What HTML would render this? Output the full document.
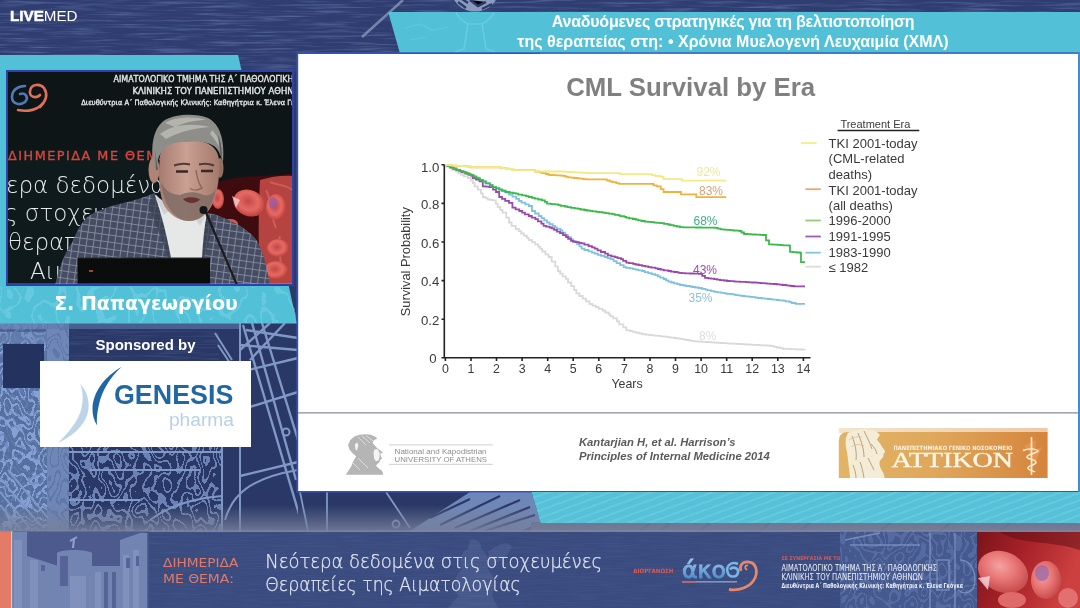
<!DOCTYPE html>
<html><head><meta charset="utf-8"><title>CML Survival by Era</title>
<style>
*{margin:0;padding:0;box-sizing:border-box}
html,body{width:1080px;height:608px;overflow:hidden;background:#2d3b6b}
body{position:relative;font-family:"Liberation Sans",Arial,sans-serif}
.abs{position:absolute}
#topband{left:0;top:0;width:1080px;height:55px;background:#2e3c6c;
 background-image:repeating-linear-gradient(180deg,rgba(120,140,190,.0) 0px,rgba(120,140,190,.18) 2px,rgba(120,140,190,0) 4px,rgba(0,0,0,0) 6px)}
#leftbg{left:0;top:55px;width:300px;height:476px;background:#33457a}
#titlebar{left:0;top:11.5px;width:1080px;height:42px;background:#52c1d8;clip-path:polygon(388px 0,1080px 0,1080px 42px,400px 42px)}
#title{left:400px;top:12px;width:666px;text-align:center;color:#fff;font:bold 16px/19.5px "Liberation Sans",sans-serif}
#logo{left:10px;top:8.3px;color:#fff;font:15.2px/16px "Liberation Sans",sans-serif}
#logo b{font-weight:bold;-webkit-text-stroke:0.5px #fff}
#cyanpanel{left:0;top:54.5px;width:300px;height:269px;background:#52c1d8;clip-path:polygon(0 0,238px 0,297px 269px,0 269px)}
#video{left:6px;top:70px;width:288px;height:216px;border:2px solid #2f40ac;background:#0e1614;overflow:hidden}
#name{left:0;top:288px;width:292px;text-align:center;color:#fff;font:bold 19px/30px "DejaVu Sans",sans-serif}
#sponsor{left:40px;top:336px;width:211px;text-align:center;color:#fff;font:bold 15px/18px "Liberation Sans",sans-serif}
#genesis{left:40px;top:360.5px;width:211px;height:86.5px;background:#fff}
#cyanband{left:0;top:492px;width:1080px;height:31px;background:#55c2d9 repeating-linear-gradient(160deg,rgba(255,255,255,0) 0 5px,rgba(255,255,255,.10) 5px 7px);clip-path:polygon(531.5px 0,1080px 0,1080px 31px,540.7px 31px)}
#fade{left:0;top:515px;width:1080px;height:16px;background:linear-gradient(180deg,rgba(110,120,150,0),rgba(110,120,150,.8))}
#bottom{left:0;top:531px;width:1080px;height:77px;background:#3b5282}
</style></head>
<body>
<svg class="abs" id="bgsvg" width="1080" height="608" viewBox="0 0 1080 608" style="left:0;top:0" font-family="Liberation Sans, Arial, sans-serif">
<defs>
<filter id="brush" x="0" y="0" width="100%" height="100%" color-interpolation-filters="sRGB">
  <feTurbulence type="fractalNoise" baseFrequency="0.02 0.45" numOctaves="3" seed="3"/>
  <feColorMatrix type="matrix" values="0 0 0 0 0.40  0 0 0 0 0.47  0 0 0 0 0.68  1.6 0 0 0 -0.74"/>
</filter>
<filter id="engr" x="0" y="0" width="100%" height="100%" color-interpolation-filters="sRGB">
  <feTurbulence type="fractalNoise" baseFrequency="0.05 0.035" numOctaves="2" seed="7"/>
  <feComponentTransfer><feFuncR type="discrete" tableValues="0 0 0 0 0 0 1 0 0 0 1 0 0 1 0 0 0 1 0 0 0 0 0 0"/></feComponentTransfer>
  <feColorMatrix type="matrix" values="0 0 0 0 0.50  0 0 0 0 0.60  0 0 0 0 0.80  0.8 0 0 0 0"/>
</filter>
<filter id="engr2" x="0" y="0" width="100%" height="100%" color-interpolation-filters="sRGB">
  <feTurbulence type="fractalNoise" baseFrequency="0.06 0.04" numOctaves="2" seed="11"/>
  <feComponentTransfer><feFuncR type="discrete" tableValues="0 0 0 1 0 0 1 0 0 1 0 0 1 0 0 1 0 0"/></feComponentTransfer>
  <feColorMatrix type="matrix" values="0 0 0 0 0.55  0 0 0 0 0.65  0 0 0 0 0.85  0.9 0 0 0 0"/>
</filter>
<filter id="fine" x="0" y="0" width="100%" height="100%" color-interpolation-filters="sRGB">
  <feTurbulence type="fractalNoise" baseFrequency="0.03 0.9" numOctaves="2" seed="5"/>
  <feColorMatrix type="matrix" values="0 0 0 0 0.55  0 0 0 0 0.62  0 0 0 0 0.80  1.2 0 0 0 -0.5"/>
</filter>
<linearGradient id="fadeg" x1="0" y1="0" x2="0" y2="1"><stop offset="0" stop-color="#747c98" stop-opacity="0"/><stop offset="1" stop-color="#777f9a" stop-opacity="0.9"/></linearGradient>
</defs>
<!-- top band -->
<!-- mid/lower navy -->
<rect x="0" y="56" width="1080" height="476" fill="#2b3a68"/>
<rect x="0" y="0" width="1080" height="72" fill="#2f3d70"/>
<rect x="0" y="0" width="1080" height="72" filter="url(#brush)"/>
<g id="leftpat">
<rect x="0" y="323" width="300" height="209" fill="#2a3867"/>
<rect x="69" y="330" width="150" height="115" filter="url(#brush)" opacity=".45"/>
<rect x="0" y="323" width="47" height="209" fill="#56709f"/>
<rect x="0" y="323" width="47" height="209" filter="url(#engr2)"/>
<rect x="0" y="323" width="69" height="209" filter="url(#engr)" style="mix-blend-mode:multiply" opacity=".5"/>
<rect x="47" y="323" width="22" height="209" fill="#6e87b6"/>
<rect x="47" y="323" width="22" height="209" filter="url(#engr)" opacity=".35" style="mix-blend-mode:multiply"/>
<rect x="0" y="323" width="240" height="6" fill="#5f79aa" opacity=".6"/>
<path d="M0,330.5 H47" stroke="#2a3867" stroke-width="2.5"/>
<rect x="69" y="447" width="153" height="84" filter="url(#engr2)" opacity=".75"/>
<rect x="0" y="323" width="47" height="209" filter="url(#engr)" opacity=".6"/>
<rect x="3" y="344" width="41" height="44" fill="#24325f"/>
<rect x="0" y="323" width="47" height="20" fill="#6a84b4" opacity=".5"/>
<g stroke="#7f98c6" stroke-width="2" fill="none">
<path d="M0,478 L40,525 M0,492 L30,528 M8,470 L48,518 M0,505 L22,531"/>
<path d="M222,445 V531 M240,323 V531"/>
<path d="M243,325 L299,514 M262,323 L298,440 M240,372 L298,358 M240,410 L298,392 M240,476 L298,462 M246,330 L298,338 M270,323 L240,350 M285,323 L250,360 M240,345 L298,350 M252,323 L296,480" stroke-width="2.4"/>
<path d="M225,520 C232,495 250,478 298,470"/>
<circle cx="286" cy="432" r="3.5"/>
<path d="M215,333 L232,360 M218,345 L236,372 M214,380 L226,402"/>
<path d="M69,452 H222 M69,500 H140 M150,520 C170,505 195,498 222,496 M90,470 H200"/>
</g>
</g>
<rect x="298" y="488" width="240" height="44" fill="#2a3867"/>
<g stroke="#7f98c6" stroke-width="1.8" fill="none">
<path d="M300,492 L308,531 M327,492 V531 M386,492 L410,528"/>
<circle cx="396" cy="524" r="3.5"/>
</g>
<path d="M410,531 L470,492 H531.5 L540.7,523 L520,531 Z" fill="#6f87b8"/>
<g stroke="#2a3867" stroke-width="2.2" fill="none">
<path d="M440,525 L500,496 M455,528 L520,500 M470,531 L530,507 M485,531 L535,515 M430,518 L470,499"/>
</g>
<!-- globe + stick decorations on top band -->
<circle cx="475" cy="-13" r="24.6" fill="#8a9bbf"/>
<path d="M458,2 L466,8 M470,0 L478,6 L486,2 M482,9 L492,4 M462,-1 L468,3" stroke="#2c3a6c" stroke-width="2.4"/>
<path d="M362,37 L403,0" stroke="#8796bb" stroke-width="2.5" opacity=".8"/>
<!-- fade -->
<rect x="531" y="522" width="549" height="10" fill="#646b86"/>
<g stroke="#4a5170" stroke-width="2" opacity=".8"><path d="M640,531 L650,523 M660,531 L670,523 M700,531 L710,523 M760,531 L770,523 M800,531 L810,523 M880,531 L890,523 M940,531 L950,523 M1000,531 L1010,523"/></g>
<rect x="0" y="505" width="1080" height="27" fill="url(#fadeg)"/>
<!-- bottom banner -->
<rect x="0" y="531.5" width="1080" height="76.5" fill="#3a4c7f"/>
<rect x="0" y="531.5" width="1080" height="76.5" filter="url(#fine)" opacity=".18"/>
<path d="M0,531.2 H1080" stroke="#8890aa" stroke-width="1"/>
<g id="banner">
<defs>
<linearGradient id="bldg" x1="0" y1="0" x2="0" y2="1"><stop offset="0" stop-color="#5467a0"/><stop offset="1" stop-color="#6a7fb4"/></linearGradient>
<linearGradient id="akog" x1="0" y1="0" x2="0" y2="1"><stop offset="0" stop-color="#9fd0f2"/><stop offset="1" stop-color="#3f7fc4"/></linearGradient>
<linearGradient id="rbc" x1="0" y1="0" x2="1" y2="0.3"><stop offset="0" stop-color="#7a141a"/><stop offset="0.5" stop-color="#a82228"/><stop offset="1" stop-color="#cc4040"/></linearGradient>
<radialGradient id="rcell" cx="0.4" cy="0.4" r="0.65"><stop offset="0" stop-color="#f4a2a2"/><stop offset="0.5" stop-color="#e87474"/><stop offset="1" stop-color="#c44848"/></radialGradient>
</defs>
<rect x="0" y="531.5" width="11.2" height="76.5" fill="#e37b66"/>
<rect x="11.2" y="531.5" width="1.4" height="76.5" fill="#f1e6e6"/>
<rect x="12.6" y="531.5" width="135.6" height="76.5" fill="#4c5a8e"/>
<g fill="#7284b2">
<rect x="12.6" y="532" width="14.5" height="76"/>
<path d="M27,556 L40,560 L58,566 V608 H27 Z"/>
<path d="M57,553 C60,549 88,549 92,553 V608 H57 Z"/>
<path d="M92,566 H120 V608 H92 Z"/>
<path d="M120,540 L140,533 L147.5,533 V608 H120 Z"/>
</g>
<g fill="#8495c0" opacity=".8">
<rect x="14" y="540" width="8" height="68"/>
<rect x="30" y="560" width="8" height="48"/>
<rect x="70" y="576" width="16" height="32"/>
<rect x="123" y="555" width="6" height="53"/><rect x="133" y="550" width="6" height="58"/>
<rect x="95" y="572" width="6" height="36"/>
</g>
<g fill="#56649a">
<rect x="60" y="556" width="8" height="30"/>
<rect x="104" y="572" width="4" height="36"/><rect x="112" y="572" width="4" height="36"/>
<rect x="41" y="565" width="4" height="6"/>
<rect x="126" y="558" width="4" height="10"/><rect x="136" y="556" width="3" height="10"/>
</g>
<path d="M73,548 L74,539 M70,541 L77,537" stroke="#93a3cf" stroke-width="2"/>
<rect x="147.5" y="531.5" width="1.5" height="76.5" fill="#44558a"/>
<g font-family="DejaVu Sans, sans-serif" fill="#e07a6a" font-size="12.4">
<text x="163" y="566.8" textLength="75.3" lengthAdjust="spacingAndGlyphs">ΔΙΗΜΕΡΙΔΑ</text>
<text x="163" y="582.6" textLength="71" lengthAdjust="spacingAndGlyphs">ΜΕ ΘΕΜΑ:</text>
</g>
<g opacity=".12" fill="#9fb2dc">
<path d="M470,540 C476,538 482,542 481,549 C486,552 490,560 488,570 C494,575 496,585 492,596 L498,608 H448 L458,596 C452,585 455,575 462,570 C458,560 462,551 468,549 Z"/>
<path d="M488,552 C498,545 506,540 512,546 C508,556 500,562 490,566 Z"/>
</g>
<g font-family="DejaVu Sans, sans-serif" font-weight="200" fill="#e3e7f3" stroke="#e3e7f3" stroke-width="0.25" font-size="18.8">
<text x="265.2" y="568" textLength="336.8" lengthAdjust="spacingAndGlyphs">Νεότερα δεδομένα στις στοχευμένες</text>
<text x="265.2" y="591.4" textLength="255.6" lengthAdjust="spacingAndGlyphs">Θεραπείες της Αιματολογίας</text>
</g>
<text x="633.3" y="573" font-family="DejaVu Sans Condensed, sans-serif" font-weight="bold" font-size="6" fill="#e05a52" textLength="40" lengthAdjust="spacingAndGlyphs">ΔΙΟΡΓΑΝΩΣΗ</text>
<text x="682" y="578" font-family="DejaVu Sans, sans-serif" font-size="23" fill="url(#akog)" stroke="url(#akog)" stroke-width="0.9" textLength="44" lengthAdjust="spacingAndGlyphs">άκο</text>
<path d="M738,564 C731,561 726,566 727.5,572 C729,578 737,578 738,572.5 C739,568 733,566 730,569.5" fill="none" stroke="#7ab6e6" stroke-width="2.6"/>
<path d="M741,571 C739,565 743,561 749,562 C756,563 758,571 755,578 C751,587 739,591 729,589.5" fill="none" stroke="#e4886c" stroke-width="2.8"/>
<path d="M747,570 C744,568 745,565 748,565.5" fill="none" stroke="#e08a70" stroke-width="1.8"/>
<rect x="682" y="581" width="55" height="1.6" fill="#b8c4e0" opacity=".6"/>
<rect x="682" y="581" width="14" height="1.6" fill="#e05a52"/>
<rect x="840" y="531.5" width="137" height="76.5" fill="#4d629a" opacity=".6"/>
<rect x="840" y="531.5" width="137" height="76.5" filter="url(#engr2)" opacity=".25"/>
<g stroke="#8296c6" stroke-width="1.4" fill="none" opacity=".8">
<path d="M930,533 V608 M955,533 V608 M845,540 L880,533 M850,545 H920 M960,560 C970,560 975,570 975,580 C975,592 965,596 958,590"/>
<rect x="937" y="560" width="12" height="30"/>
</g>
<g font-family="DejaVu Sans Condensed, sans-serif" fill="#eef0f6">
<text x="781.5" y="560" font-size="5" font-weight="bold" fill="#e2554d" textLength="59" lengthAdjust="spacingAndGlyphs">ΣΕ ΣΥΝΕΡΓΑΣΙΑ ΜΕ ΤΟ</text>
<text x="781.5" y="571.1" font-size="8.6" textLength="155.5" lengthAdjust="spacingAndGlyphs">ΑΙΜΑΤΟΛΟΓΙΚΟ ΤΜΗΜΑ ΤΗΣ Α΄ ΠΑΘΟΛΟΓΙΚΗΣ</text>
<text x="781.5" y="580" font-size="8.3" textLength="141.5" lengthAdjust="spacingAndGlyphs">ΚΛΙΝΙΚΗΣ ΤΟΥ ΠΑΝΕΠΙΣΤΗΜΙΟΥ ΑΘΗΝΩΝ</text>
<text x="781.5" y="588" font-size="7" font-weight="bold" textLength="181.5" lengthAdjust="spacingAndGlyphs">Διευθύντρια Α΄ Παθολογικής Κλινικής: Καθηγήτρια κ. Έλενα Γκόγκα</text>
</g>
<rect x="977" y="532" width="103" height="76" fill="url(#rbc)"/>
<path d="M1000,532 C1020,545 1050,540 1080,550 V532 Z" fill="#5a0c12" opacity=".5"/>
<ellipse cx="1003" cy="572" rx="26" ry="20" fill="url(#rcell)" transform="rotate(25 1003 572)"/>
<ellipse cx="1046" cy="580" rx="15" ry="19" fill="url(#rcell)"/>
<ellipse cx="1042" cy="573" rx="7" ry="8" fill="#9b6aa8" opacity=".8"/>
<ellipse cx="1068" cy="598" rx="10" ry="10" fill="#e27070"/>
<ellipse cx="1012" cy="600" rx="14" ry="8" fill="#de6a6a"/>
<path d="M978,578 L990,576 L988,590 Z" fill="#f3d8e0" opacity=".8"/>
</g>
</svg>
<div class="abs" id="titlebar"></div>
<svg class="abs" width="1080" height="60" viewBox="0 0 1080 60" style="left:0;top:0"><path d="M456,12 C458,18 464,22 468,24 L464,49 L455,52 M494,12 C492,18 486,22 482,24 L486,49 L495,52 M468,24 H482" fill="none" stroke="#74d2e6" stroke-width="1.6" opacity=".6"/><path d="M405,28 L420,24 L432,30 L448,27 M410,40 L426,37" fill="none" stroke="#6fcfe3" stroke-width="1.2" opacity=".5"/></svg>
<div class="abs" id="title"><span style="letter-spacing:-0.22px">Αναδυόμενες στρατηγικές για τη βελτιστοποίηση</span><br><span style="letter-spacing:0.02px">της θεραπείας στη: • Χρόνια Μυελογενή Λευχαιμία (ΧΜΛ)</span></div>
<div class="abs" id="logo"><b>LIVE</b>MED</div>
<div class="abs" id="cyanpanel"></div>
<div class="abs" id="video"><svg width="284" height="212" viewBox="8 72 284 212" style="position:absolute;left:0;top:0" font-family="Liberation Sans, Arial, sans-serif">
<defs>
<pattern id="check" x="0" y="0" width="7" height="7" patternUnits="userSpaceOnUse" patternTransform="rotate(8)">
<rect width="7" height="7" fill="#464d62"/>
<path d="M0,0.5 H7 M0.5,0 V7" stroke="#848ca0" stroke-width="0.9"/>
</pattern>
<radialGradient id="cell" cx="0.45" cy="0.45" r="0.6"><stop offset="0" stop-color="#c24848"/><stop offset="0.55" stop-color="#e66a62"/><stop offset="1" stop-color="#b83a3a"/></radialGradient>
<linearGradient id="redbg" x1="0" y1="0" x2="0" y2="1"><stop offset="0" stop-color="#3a0c0c"/><stop offset="0.4" stop-color="#6a1a18"/><stop offset="1" stop-color="#8a2622"/></linearGradient>
<linearGradient id="skin" x1="0" y1="0" x2="1" y2="0"><stop offset="0" stop-color="#a57c70"/><stop offset="0.45" stop-color="#c9a092"/><stop offset="1" stop-color="#a47a6c"/></linearGradient>
</defs>
<rect x="8" y="72" width="284" height="213" fill="#0d1517"/>
<rect x="8" y="150" width="150" height="135" fill="#0f1a1c"/>
<!-- red blood cells area -->
<path d="M205,190 C215,180 240,176 262,176 C275,175 285,174 293,174 V285 H205 Z" fill="#3e0c0e"/>
<path d="M260,180 C272,176 284,175 293,176 V285 H262 C258,260 258,220 260,180 Z" fill="#b5433f"/>
<path d="M266,190 C272,200 270,215 276,228 M280,236 C276,250 284,262 280,276 M270,182 C278,186 286,184 292,190" stroke="#d86a60" stroke-width="2" fill="none" opacity=".7"/>
<ellipse cx="249" cy="203" rx="16" ry="13" fill="url(#cell)" transform="rotate(25 249 203)"/>
<ellipse cx="276" cy="207" rx="10" ry="13" fill="url(#cell)"/>
<ellipse cx="273" cy="203" rx="4" ry="6" fill="#9a5aa8" opacity=".8"/>
<ellipse cx="218" cy="199" rx="6" ry="10" fill="url(#cell)"/>
<ellipse cx="230" cy="224" rx="8" ry="5" fill="#d85a56"/>
<ellipse cx="278" cy="248" rx="11" ry="9" fill="url(#cell)"/>
<ellipse cx="276" cy="270" rx="12" ry="9" fill="url(#cell)"/>
<path d="M232,196 L240,200 L236,208 Z" fill="#f2d0d4" opacity=".8"/>
<!-- screen texts -->
<g fill="#e4e6e8" stroke="#e4e6e8" stroke-width="0.35" font-family="DejaVu Sans Condensed, sans-serif">
<text x="113.5" y="82.3" font-size="9" textLength="185" lengthAdjust="spacingAndGlyphs">ΑΙΜΑΤΟΛΟΓΙΚΟ ΤΜΗΜΑ ΤΗΣ Α΄ ΠΑΘΟΛΟΓΙΚΗΣ</text>
<text x="132.4" y="94" font-size="9" textLength="174" lengthAdjust="spacingAndGlyphs">ΚΛΙΝΙΚΗΣ ΤΟΥ ΠΑΝΕΠΙΣΤΗΜΙΟΥ ΑΘΗΝΩΝ</text>
<text x="81.3" y="104.5" font-size="7.4" font-weight="normal" textLength="230" lengthAdjust="spacingAndGlyphs">Διευθύντρια Α΄ Παθολογικής Κλινικής: Καθηγήτρια κ. Έλενα Γκόγκα</text>
</g>
<g fill="none" stroke-width="2.6" stroke-linecap="round">
<path d="M25,86 C18,86 12,90 12,97 C12,104 20,106 25,102 C29,98 26,92 20,94" stroke="#4f79b8"/>
<path d="M40,107 C46,101 48,94 44,88 C40,83 31,84 30,91 C29,97 36,99 40,95" stroke="#e0705a"/>
<path d="M43,103 C38,110 28,112 18,110" stroke="#e0705a"/>
</g>
<text x="8" y="160" font-size="12.8" fill="#d9453a" stroke="#d9453a" stroke-width="0.35" letter-spacing="1.5" font-family="DejaVu Sans, sans-serif">ΔΙΗΜΕΡΙΔΑ ΜΕ ΘΕΜΑ</text>
<g fill="#e8eaf0" font-family="DejaVu Sans, sans-serif" font-weight="200" font-size="23">
<text x="6" y="193">ερα δεδομένα</text>
<text x="4" y="221">ς στοχευμένες</text>
<text x="8" y="250">θεραπείες</text>
<text x="30" y="279">Αιματολογίας</text>
</g>
<!-- jacket -->
<path d="M55,285 C60,265 66,250 72,243 C78,228 84,218 92,214 C103,208 118,204 128,202 C138,199 148,196 154,193 L162,200 L200,214 C210,212 218,215 226,219 C236,223 246,228 255,238 C262,248 266,262 270,285 Z" fill="url(#check)"/>
<path d="M154,193 L148,205 L160,235 L170,262 L172,285 H176 L168,240 Z" fill="#3a4052" opacity=".7"/>
<path d="M206,212 L214,222 L204,260 L200,285 H196 L200,250 Z" fill="#3a4052" opacity=".7"/>
<!-- shirt -->
<path d="M155,195 C160,210 166,230 171,258 L202,258 C203,242 204,228 207,213 C198,218 190,220 183,218 C172,212 163,204 157,196 Z" fill="#e6e8e8"/>
<path d="M155,195 L164,215 L172,208 Z M207,213 L200,226 L195,218 Z" fill="#cfd2d4"/>
<!-- neck -->
<path d="M166,196 C174,210 186,218 200,215 L206,211 L206,200 C196,206 180,206 166,192 Z" fill="#9d786c"/>
<!-- face -->
<ellipse cx="154" cy="170" rx="5.5" ry="13" fill="#b08474"/>
<ellipse cx="220" cy="168" rx="3.5" ry="10" fill="#96705f"/>
<path d="M160,158 C160,146 170,140 188,140 C206,140 218,146 219,160 C220,175 218,190 213,203 C208,214 199,221 189,221 C178,221 168,214 163,203 C159,192 158,172 160,158 Z" fill="url(#skin)"/>
<path d="M161,182 C163,202 173,221 189,221 C202,221 212,210 216,188 C213,195 207,197 201,194 C194,191 186,192 180,195 C171,195 165,190 161,182 Z" fill="#7f6c64" opacity=".85"/>
<path d="M183,199 C188,196.5 195,196.5 200,199.5 C196,204 188,204.5 183,199 Z" fill="#6b3030"/>
<path d="M196,170 C197,178 199,184 202,188 C198,190.5 193,190.5 190,188.5" fill="none" stroke="#8e6a5e" stroke-width="1.5"/>
<path d="M176,171.5 h12 M201,171 h12" stroke="#3b2824" stroke-width="2.6"/>
<path d="M174,165.5 q8,-3 16,-1 M199,164.5 q8,-2 15,1" stroke="#4f3c35" stroke-width="2" fill="none"/>
<!-- hair -->
<path d="M154,168 C150,146 153,128 165,120 C176,114 195,113 208,118 C220,124 225,140 223,163 C221,155 218,149 214,146 C206,141.5 196,141 188,142 C176,141.5 167,144 163,150 C159,155 157,160 156,170 Z" fill="#8d8d89"/>
<path d="M165,123 C175,117 193,116 206,120 C196,120 186,122 175,127 Z M160,134 C170,126 188,122 210,127 C196,128 180,131 166,139 Z M212,130 C218,136 220,142 221,150 C218,144 214,138 210,134 Z" fill="#b4b4af"/>
<path d="M155,150 C156,158 157,164 158,170 L156,170 Z M218,135 C221,142 222,150 222,160 L220,152 Z" fill="#5d5d5a"/>
<!-- laptop -->
<path d="M77.6,258 H210 V285 H77.6 Z" fill="#0b0c0c"/>
<path d="M77.6,258 H210" stroke="#2a2c2c" stroke-width="1"/>
<path d="M8,284.6 H292" stroke="#c9ccd6" stroke-width="1.6"/>
<rect x="89" y="270" width="4" height="2" fill="#b04030"/>
<!-- mic -->
<path d="M204,208 L237,285" stroke="#1a1c1e" stroke-width="2.2"/>
<circle cx="203.5" cy="210" r="4" fill="#141618"/>
</svg></div>
<svg class="abs" width="1080" height="608" viewBox="0 0 1080 608" style="left:0;top:0;pointer-events:none">
<defs><filter id="cyanpat" x="0" y="0" width="100%" height="100%" color-interpolation-filters="sRGB">
<feTurbulence type="fractalNoise" baseFrequency="0.045 0.03" numOctaves="2" seed="21"/>
<feComponentTransfer><feFuncR type="discrete" tableValues="0 0 0 0 1 0 0 0 1 0 0 0 0 1 0 0 0 0"/></feComponentTransfer>
<feColorMatrix type="matrix" values="0 0 0 0 0.55  0 0 0 0 0.85  0 0 0 0 0.93  0.35 0 0 0 0"/>
</filter>
<clipPath id="namebarclip"><polygon points="0,287 292,287 297,323 0,323"/></clipPath>
<clipPath id="cbandclip"><polygon points="531.5,492 1080,492 1080,523 540.7,523"/></clipPath>
</defs>
<rect x="0" y="287" width="300" height="36" filter="url(#cyanpat)" clip-path="url(#namebarclip)"/>
<rect x="530" y="492" width="550" height="31" filter="url(#cyanpat)" clip-path="url(#cbandclip)"/>
</svg>
<div class="abs" id="name">Σ. Παπαγεωργίου</div>
<div class="abs" id="sponsor">Sponsored by</div>
<div class="abs" id="genesis"><svg width="211" height="87" viewBox="40 360.5 211 87" style="position:absolute;left:0;top:0" font-family="Liberation Sans, Arial, sans-serif">
<path fill="#bcd3e8" d="M80,383 C86,390 89.5,398 88.5,408 C87,423 74,435 58,442.5 C69,432 78.5,420 81.5,408 C83.5,398 83,390 80,383 Z"/>
<path fill="#1f66a2" d="M121.5,366.5 C105,376 93,391 92.5,408 C92.3,414 94,420 97,425 C96.5,419 97,412 99,404 C102,390 110,377 121.5,366.5 Z"/>
<text x="114" y="403.9" font-size="26.8" font-weight="bold" fill="#1f68a3" textLength="119.3" lengthAdjust="spacingAndGlyphs">GENESIS</text>
<text x="168.9" y="425" font-size="19.2" fill="#b9d1e6" textLength="65.1" lengthAdjust="spacingAndGlyphs">pharma</text>
</svg></div>
<svg class="abs" id="slide" width="1080" height="608" viewBox="0 0 1080 608" style="left:0;top:0" font-family="Liberation Sans, Arial, sans-serif">
<rect x="296.5" y="52.3" width="783.5" height="440.2" fill="#3553b8"/>
<rect x="540" y="52.3" width="540" height="2" fill="#3d7fd0"/>
<rect x="1078" y="52.3" width="2" height="440" fill="#3d8ed6"/>
<rect x="298.2" y="54" width="779.8" height="437" fill="#fff"/>
<text x="690.7" y="95.6" text-anchor="middle" font-size="25.8" font-weight="bold" fill="#808080">CML Survival by Era</text>
<g fill="none" stroke-width="1.8" stroke-linejoin="miter">
<path d="M444.5,165.0 H446.5 V166.6 H449.9 V168.2 H452.0 V169.9 H455.9 V171.5 H458.0 V173.2 H460.8 V174.8 H463.9 V176.4 H468.0 V178.0 H471.0 V180.5 H472.9 V183.0 H474.7 V186.3 H477.8 V189.6 H480.9 V193.3 H482.8 V197.0 H485.5 V198.2 H487.7 V199.5 H490.7 V199.9 H492.6 V200.3 H495.8 V203.6 H497.6 V206.9 H500.2 V209.8 H502.5 V212.6 H506.2 V217.6 H509.0 V222.5 H511.6 V225.8 H515.7 V229.0 H518.9 V231.2 H521.2 V233.5 H523.9 V235.7 H526.9 V237.9 H528.7 V240.0 H532.0 V242.2 H535.2 V244.4 H538.2 V246.6 H540.3 V248.8 H542.3 V251.5 H545.5 V254.3 H548.5 V257.0 H551.7 V261.7 H555.3 V266.3 H557.9 V271.0 H560.1 V273.6 H562.7 V276.3 H565.8 V278.9 H568.0 V282.5 H571.2 V286.1 H574.1 V289.8 H576.3 V293.4 H579.4 V296.0 H582.7 V298.7 H586.0 V301.4 H589.5 V304.0 H592.5 V305.6 H595.9 V307.2 H598.7 V308.9 H602.6 V310.5 H605.3 V312.5 H608.7 V314.4 H610.4 V316.4 H613.2 V318.4 H616.9 V321.4 H619.2 V324.4 H623.3 V327.3 H626.3 V330.3 H629.9 V331.1 H632.9 V331.9 H635.8 V332.6 H638.9 V333.4 H642.1 V334.2 H645.4 V334.6 H648.9 V334.9 H650.7 V335.2 H653.7 V335.6 H657.8 V335.9 H660.5 V336.3 H664.4 V336.7 H667.0 V337.1 H670.2 V337.6 H673.9 V338.0 H676.2 V338.4 H680.0 V338.8 H682.8 V339.4 H685.8 V340.0 H689.5 V340.6 H692.5 V341.2 H695.3 V341.4 H698.3 V341.6 H702.2 V341.8 H705.7 V342.0 H707.8 V342.2 H711.6 V342.4 H714.3 V342.6 H718.1 V342.8 H720.8 V343.0 H723.4 V343.2 H726.9 V343.4 H729.3 V343.6 H731.9 V343.7 H735.6 V343.9 H738.3 V344.0 H740.9 V344.2 H744.1 V344.3 H746.9 V344.5 H750.5 V344.7 H752.4 V344.8 H756.7 V345.0 H758.8 V345.1 H761.9 V345.3 H764.5 V345.4 H767.5 V345.6 H771.1 V346.2 H774.2 V346.9 H776.9 V347.5 H779.9 V348.2 H783.0 V348.8 H786.5 V348.9 H789.9 V349.1 H792.3 V349.2 H795.9 V349.3 H799.5 V349.4 H801.8 V349.6 H805.0 V349.7" stroke="#d9d9d9"/>
<path d="M444.5,165.0 H447.1 V166.2 H451.0 V167.4 H453.4 V168.7 H456.4 V169.9 H460.2 V171.1 H462.8 V172.4 H465.8 V173.6 H469.6 V174.8 H472.1 V176.1 H474.5 V177.3 H477.8 V178.7 H479.5 V180.0 H482.8 V181.4 H486.5 V183.3 H490.0 V185.2 H492.6 V187.1 H496.4 V188.2 H499.7 V189.3 H502.5 V190.4 H505.0 V192.4 H509.0 V194.5 H512.5 V196.7 H516.2 V198.8 H519.0 V201.0 H521.5 V202.7 H525.2 V204.3 H528.8 V206.0 H532.0 V211.0 H535.0 V213.5 H538.7 V216.0 H541.5 V218.2 H544.1 V220.3 H547.0 V222.5 H549.6 V224.1 H552.8 V225.8 H555.0 V227.4 H557.0 V228.9 H560.5 V230.3 H562.4 V232.6 H565.2 V234.9 H567.8 V237.2 H571.0 V239.5 H573.0 V241.8 H577.1 V244.1 H579.5 V246.4 H581.6 V248.7 H584.4 V250.0 H588.5 V251.3 H592.0 V252.6 H594.8 V253.7 H597.9 V254.8 H601.0 V255.9 H604.6 V257.0 H607.6 V258.1 H610.5 V259.2 H613.6 V261.2 H616.6 V263.1 H620.1 V265.1 H623.7 V267.1 H626.2 V267.8 H629.9 V268.4 H633.2 V269.1 H635.8 V269.7 H638.4 V270.4 H642.1 V271.0 H644.7 V272.1 H648.2 V273.1 H651.7 V274.2 H655.2 V275.2 H657.9 V276.3 H660.3 V277.6 H663.6 V279.0 H666.0 V280.3 H668.4 V281.6 H671.2 V282.5 H674.0 V283.3 H677.1 V284.1 H680.0 V285.0 H683.5 V285.5 H686.1 V286.0 H689.7 V286.5 H692.5 V287.0 H695.3 V287.5 H698.8 V288.0 H702.0 V288.8 H705.4 V289.6 H707.5 V290.3 H711.2 V291.1 H714.4 V291.9 H717.4 V292.4 H721.3 V292.8 H724.5 V293.3 H726.7 V293.8 H730.7 V294.2 H733.6 V294.7 H735.9 V295.1 H739.4 V295.6 H742.4 V296.0 H745.0 V296.4 H749.2 V296.8 H752.1 V297.2 H755.5 V297.6 H758.0 V298.0 H761.6 V298.3 H764.5 V298.6 H767.7 V299.0 H770.6 V299.3 H773.0 V299.6 H776.9 V300.0 H779.1 V300.3 H783.0 V300.6 H785.6 V301.4 H789.7 V302.2 H791.7 V303.0 H795.6 V303.8 H805.0" stroke="#80c2dc"/>
<path d="M444.5,165.0 H447.6 V166.2 H450.1 V167.4 H453.2 V168.7 H456.4 V169.9 H459.8 V171.0 H461.5 V172.2 H465.3 V173.3 H468.5 V174.5 H471.0 V175.6 H472.9 V178.0 H475.9 V179.7 H479.5 V181.4 H482.8 V186.3 H485.6 V186.7 H489.3 V187.1 H493.1 V189.6 H496.0 V192.0 H499.2 V197.0 H502.0 V198.9 H505.2 V200.9 H509.0 V202.8 H512.4 V207.7 H515.6 V209.3 H519.3 V211.0 H522.2 V212.6 H524.9 V214.3 H528.8 V216.0 H531.8 V217.6 H535.4 V219.2 H537.9 V221.4 H541.4 V223.6 H543.6 V225.8 H546.2 V226.6 H549.6 V227.5 H551.8 V228.3 H554.0 V229.9 H557.0 V231.6 H560.0 V233.2 H563.0 V235.1 H566.1 V237.0 H568.2 V238.9 H571.0 V240.8 H573.2 V241.5 H575.7 V242.1 H579.0 V242.8 H581.6 V243.4 H584.4 V244.7 H588.6 V246.1 H592.0 V247.4 H594.7 V248.7 H597.5 V250.3 H600.9 V252.0 H605.1 V253.7 H607.9 V255.3 H611.4 V256.3 H614.9 V257.2 H617.5 V258.2 H621.0 V259.2 H623.1 V260.9 H626.3 V262.6 H629.1 V263.2 H633.1 V263.9 H635.4 V264.5 H638.7 V265.2 H642.1 V265.8 H645.1 V266.4 H648.3 V267.1 H651.4 V267.7 H655.4 V268.4 H657.9 V269.0 H660.6 V269.6 H663.7 V270.3 H668.4 V271.0 H671.0 V271.6 H674.3 V272.0 H677.1 V272.4 H678.8 V272.8 H681.6 V273.2 H685.2 V273.3 H688.0 V273.4 H689.8 V273.5 H693.5 V273.6 H696.5 V273.7 H698.8 V273.8 H702.2 V275.8 H705.0 V277.8 H708.2 V278.3 H710.9 V278.7 H714.1 V279.2 H717.1 V279.6 H720.0 V280.1 H723.9 V280.5 H726.9 V281.0 H729.7 V281.2 H733.6 V281.4 H735.5 V281.6 H740.0 V281.8 H742.8 V281.9 H746.3 V282.1 H749.4 V282.3 H751.9 V282.5 H755.7 V282.7 H758.3 V282.9 H760.5 V283.1 H764.8 V283.4 H767.0 V283.6 H770.4 V283.8 H773.8 V284.0 H776.9 V284.3 H779.6 V284.7 H782.3 V285.0 H786.0 V285.3 H788.4 V285.6 H790.9 V286.0 H794.0 V286.3 H805.0" stroke="#9a48ae"/>
<path d="M444.5,165.0 H448.0 V166.2 H451.2 V167.4 H453.7 V168.7 H456.4 V169.9 H459.2 V171.1 H463.6 V172.4 H467.0 V173.6 H469.6 V174.8 H473.5 V176.5 H476.3 V178.1 H479.8 V179.8 H482.8 V181.4 H485.6 V183.3 H489.9 V185.2 H492.6 V187.1 H496.0 V188.3 H498.9 V189.6 H501.8 V190.8 H505.8 V192.0 H509.7 V192.6 H513.2 V193.1 H515.7 V193.7 H518.3 V194.6 H522.2 V195.4 H525.9 V196.2 H528.6 V197.0 H532.0 V197.8 H534.8 V198.6 H538.3 V199.5 H542.0 V200.3 H544.9 V201.9 H547.0 V203.6 H550.3 V203.9 H551.6 V204.1 H555.0 V204.4 H558.4 V205.1 H560.7 V205.8 H564.9 V206.5 H567.5 V207.2 H571.0 V207.9 H574.8 V208.4 H578.1 V208.9 H580.5 V209.5 H584.4 V210.0 H586.8 V210.5 H589.7 V210.9 H592.4 V211.3 H596.4 V211.8 H598.7 V212.2 H602.6 V212.6 H605.3 V213.1 H608.8 V213.7 H612.3 V214.2 H614.7 V214.8 H618.4 V215.3 H620.3 V216.1 H624.3 V216.9 H626.1 V217.6 H629.0 V218.4 H632.9 V219.0 H635.9 V219.7 H638.2 V220.3 H641.5 V221.0 H644.7 V221.6 H647.9 V221.9 H651.3 V222.2 H654.3 V222.6 H657.4 V222.9 H660.5 V223.2 H664.0 V223.8 H667.8 V224.5 H670.4 V225.2 H673.7 V225.8 H676.7 V226.5 H680.0 V227.2 H683.5 V227.3 H685.8 V227.3 H689.1 V227.4 H693.3 V227.4 H695.7 V227.5 H698.8 V227.5 H701.1 V227.6 H704.9 V227.6 H708.3 V227.7 H710.5 V227.7 H714.4 V227.8 H717.7 V228.6 H720.6 V229.4 H723.9 V229.7 H726.2 V229.9 H730.2 V230.2 H733.1 V230.5 H736.6 V230.7 H739.4 V231.0 H741.5 V232.5 H744.0 V234.0 H747.5 V234.2 H750.6 V234.3 H752.6 V234.5 H755.8 V234.7 H759.9 V234.8 H762.8 V235.0 H766.0 V240.3 H769.0 V244.4 H772.7 V244.6 H774.4 V244.7 H777.7 V244.9 H780.8 V245.1 H783.3 V245.3 H786.3 V245.4 H789.4 V245.6 H790.0 V251.9 H793.1 V252.2 H796.7 V252.5 H800.3 V252.8 H801.0 V262.2 H805.0" stroke="#3cba4c"/>
<path d="M444.5,165.0 H447.6 V165.2 H450.1 V165.4 H452.6 V165.6 H456.8 V165.8 H459.1 V166.0 H462.5 V166.2 H465.7 V166.4 H468.0 V166.6 H471.0 V167.4 H497.6 H500.8 V167.8 H504.0 V168.2 H506.0 V168.6 H509.0 V169.0 H512.0 V169.6 H514.0 V170.2 H532.0 H535.2 V171.5 H539.4 V172.4 H542.0 V173.2 H545.9 V174.0 H548.5 V174.8 H550.8 V175.0 H553.7 V175.2 H556.7 V175.4 H560.8 V175.6 H563.0 V175.8 H565.4 V176.6 H568.0 V177.3 H571.4 V177.7 H574.0 V178.0 H577.5 V178.4 H580.5 V178.7 H583.6 V179.1 H587.0 V179.4 H603.9 H606.8 V180.3 H609.6 V181.3 H612.2 V182.2 H616.3 V183.1 H619.2 V183.9 H649.7 H653.5 V185.4 H656.7 V186.4 H660.8 V189.2 H663.6 V192.0 H680.3 H681.0 V194.4 H695.6 H696.3 V197.2 H726.3" stroke="#efb23e"/>
<path d="M444.5,165.0 H447.0 V165.2 H450.4 V165.4 H453.1 V165.6 H456.4 V165.8 H459.4 V166.0 H461.4 V166.2 H464.3 V166.4 H468.0 V166.6 H471.0 V167.4 H497.6 H501.0 V167.8 H502.9 V168.2 H505.7 V168.6 H509.0 V169.0 H512.3 V169.6 H514.0 V170.2 H532.0 H535.3 V171.1 H538.7 V171.5 H560.0 H563.5 V171.7 H566.0 V171.8 H569.2 V172.0 H571.4 V172.2 H575.2 V172.3 H578.6 V172.5 H581.0 V172.7 H584.4 V172.9 H587.3 V173.0 H590.0 V173.2 H619.2 H619.9 V174.2 H649.7 H651.8 V175.1 H655.3 V176.0 H659.2 V176.5 H662.2 V177.0 H663.6 V179.2 H680.3 H681.7 V180.6 H726.3" stroke="#f3e985"/>
</g>
<g stroke="#222" stroke-width="1.6" fill="none">
<path d="M444.3,164.8 V358 M441.5,164.8 H444.3 M441.5,203.4 H444.3 M441.5,242 H444.3 M441.5,280.6 H444.3 M441.5,319.2 H444.3 M441.5,357.8 H810.5"/>
<path d="M445.4,357.8 v3.2 M471,357.8 v3.2 M496.5,357.8 v3.2 M522.1,357.8 v3.2 M547.7,357.8 v3.2 M573.2,357.8 v3.2 M598.8,357.8 v3.2 M624.4,357.8 v3.2 M650,357.8 v3.2 M675.5,357.8 v3.2 M701.1,357.8 v3.2 M726.7,357.8 v3.2 M752.2,357.8 v3.2 M777.8,357.8 v3.2 M803.4,357.8 v3.2"/>
</g>
<g font-size="13.2" fill="#3a3a3a" text-anchor="end">
<text x="439.3" y="171.8">1.0</text>
<text x="439.3" y="209">0.8</text>
<text x="439.3" y="247.5">0.6</text>
<text x="439.3" y="286">0.4</text>
<text x="439.3" y="324.5">0.2</text>
<text x="436.6" y="362.6">0</text>
</g>
<g font-size="12.4" fill="#3a3a3a" text-anchor="middle">
<text x="445.4" y="372.8">0</text><text x="471" y="372.8">1</text><text x="496.5" y="372.8">2</text><text x="522.1" y="372.8">3</text><text x="547.7" y="372.8">4</text><text x="573.2" y="372.8">5</text><text x="598.8" y="372.8">6</text><text x="624.4" y="372.8">7</text><text x="650" y="372.8">8</text><text x="675.5" y="372.8">9</text><text x="701.1" y="372.8">10</text><text x="726.7" y="372.8">11</text><text x="752.2" y="372.8">12</text><text x="777.8" y="372.8">13</text><text x="803.4" y="372.8">14</text>
<text x="627" y="388">Years</text>
<text transform="translate(410.3,261.7) rotate(-90)" x="0" y="0" font-size="13" textLength="109" lengthAdjust="spacingAndGlyphs">Survival Probability</text>
</g>
<g font-size="12" text-anchor="start">
<text x="696.5" y="175.7" fill="#ece89c">92%</text>
<text x="699" y="195.2" fill="#d9a07e">83%</text>
<text x="693.5" y="224.5" fill="#3fae80">68%</text>
<text x="693" y="274" fill="#9a4cad">43%</text>
<text x="688.5" y="302.3" fill="#8cc3d9">35%</text>
<text x="699" y="340" fill="#dedede">8%</text>
</g>
<text x="840.4" y="128" font-size="11" fill="#3a3a3a">Treatment Era</text>
<path d="M837.6,130.6 H919.3" stroke="#222" stroke-width="1.5"/>
<g font-size="13" fill="#3a3a3a">
<text x="828.6" y="147.5">TKI 2001-today</text>
<text x="828.6" y="163">(CML-related</text>
<text x="828.6" y="178.5">deaths)</text>
<text x="828.6" y="194.5">TKI 2001-today</text>
<text x="828.6" y="210">(all deaths)</text>
<text x="828.6" y="225.3">1996-2000</text>
<text x="828.6" y="240.8">1991-1995</text>
<text x="828.6" y="256.8">1983-1990</text>
<text x="828.6" y="272.4">≤ 1982</text>
</g>
<g stroke-width="1.8">
<path d="M801,143 H816.6" stroke="#f3ec8a"/>
<path d="M805.4,189.2 H820.8" stroke="#e8a676"/>
<path d="M805.4,220.5 H820.8" stroke="#93c978"/>
<path d="M805.4,236.5 H820.8" stroke="#a257b8"/>
<path d="M805.4,252.7 H820.8" stroke="#86c3e0"/>
<path d="M805.4,266.7 H820.8" stroke="#dcdcdc"/>
</g>

<g id="uoa">
<path fill="#b5b5b5" d="M346.0,474.6 L351.1,466.5 L353.7,460.5 L356.2,456.2 L352.8,453.6 L349.4,449.4 L348.1,445.1 L350.3,440.0 L354.5,436.5 L359.7,434.8 L365.6,434.2 L370.8,434.8 L375.9,437.0 L377.2,438.7 L374.2,440.0 L372.5,442.5 L374.2,445.1 L376.8,447.7 L380.2,450.2 L383.2,452.8 L380.2,453.6 L381.0,456.2 L381.9,458.8 L380.2,460.1 L379.3,462.2 L377.6,463.9 L375.9,465.6 L378.5,468.2 L381.9,470.7 L383.2,473.3 L382.7,474.8 L346.0,474.8 Z"/>
<path fill="#f4f4f4" d="M374.2,449.4 L377.6,448.9 L379.6,452.8 L379.6,457.1 L378.5,460.5 L375.9,461.3 L374.2,458.8 L373.5,453.6 Z"/>
<path fill="#f4f4f4" d="M355.0,444.2 L357.1,442.5 L358.4,445.1 L357.1,450.2 L355.4,449.4 Z"/>
<path fill="none" stroke="#e6e6e6" stroke-width=".8" d="M358,437 L366,445 M362,436 L370,443 M366,435.5 L373,441 M352,462 L360,470 M358,458 L368,468"/>
<path d="M389,444.9 H492.8 M389,464.3 H492.8" stroke="#cfcfcf" stroke-width="1"/>
<text x="394.6" y="453.8" font-size="8" fill="#8c8c8c" textLength="92" lengthAdjust="spacingAndGlyphs">National and Kapodistrian</text>
<text x="394.6" y="462" font-size="7.8" fill="#8c8c8c" textLength="92.4" lengthAdjust="spacingAndGlyphs">UNIVERSITY OF ATHENS</text>
</g>
<g id="attikon">
<defs>
<linearGradient id="ag" x1="0" y1="0" x2="1" y2="0">
<stop offset="0" stop-color="#e2b466"/><stop offset="0.45" stop-color="#dfa85c"/><stop offset="1" stop-color="#d5843c"/>
</linearGradient>
<linearGradient id="ag2" x1="0" y1="0" x2="1" y2="0">
<stop offset="0" stop-color="#f3e4cc"/><stop offset="1" stop-color="#eccaa8"/>
</linearGradient>
</defs>
<rect x="838.8" y="428" width="208.8" height="5" fill="url(#ag2)"/>
<path d="M838.8,478 V441 Q838.8,432 848,432 H1047.6 V478 Z" fill="url(#ag)"/>
<path fill="#f3ecd6" d="M850,478 C849,468 848,460 847,452 C845,444 845,438 848,433 C852,430 860,429 868,429.5 C874,430 878,432 880,435 C879,437 877,438 877,440 C879,442 881,444 882,447 C884,449 885.5,451 885,452.5 C883.5,453.5 883,454.5 883.5,456 C882.5,458 881,459.5 880,460.5 C879,463 879.5,466 881,469 C883,472 884.5,475 884.5,478 Z"/>
<path fill="none" stroke="#a8784a" stroke-width="0.9" opacity=".75" d="M852,436 C855,444 857,452 856,460 M858,433 C861,441 864,449 864,457 M864,431 C867,437 870,443 872,449 M853,465 C855,470 856,474 856,478 M860,462 C862,467 863,472 864,478 M868,458 C870,462 872,466 874,470 M871,444 C874,447 876,450 877,454"/>
<path fill="none" stroke="#d8c4a0" stroke-width="0.8" d="M849,440 C853,437 858,436 862,437 M851,447 C855,444 860,444 864,446"/>
<text x="893.5" y="449.6" font-size="5.8" font-weight="bold" font-family="DejaVu Sans Condensed, sans-serif" fill="#fbf3e4" textLength="119" lengthAdjust="spacingAndGlyphs">ΠΑΝΕΠΙΣΤΗΜΙΑΚΟ ΓΕΝΙΚΟ ΝΟΣΟΚΟΜΕΙΟ</text>
<text x="891.5" y="467.3" font-size="20.5" font-family="Liberation Serif, serif" fill="#fdf6e6" stroke="#fdf6e6" stroke-width="0.35" textLength="121.5" lengthAdjust="spacingAndGlyphs">ATTIKON</text>
<path fill="#e9964c" opacity=".9" d="M1024,446 L1036,440 L1034,458 Z M1030,452 L1042,447 L1032,470 Z"/>
<path fill="none" stroke="#fbf0da" stroke-width="1.6" d="M1031.5,437 V475"/>
<path fill="none" stroke="#fbf0da" stroke-width="1.4" d="M1023,450.5 C1028,448 1036,448.5 1038,451 C1036,454 1026,454 1027,457.5 C1029,460 1036,459 1036,462.5 C1035,466 1027,465 1028,468.5 C1030,471 1034,471 1035,472"/>
</g>
<path d="M298,412.9 H1078" stroke="#8a8a9a" stroke-width="1.2"/>
<g font-style="italic" font-weight="bold" font-size="11.6" fill="#5a5a5a">
<text x="578.9" y="446" textLength="156.7" lengthAdjust="spacingAndGlyphs">Kantarjian H, et al. Harrison’s</text>
<text x="578.9" y="459.8" textLength="191" lengthAdjust="spacingAndGlyphs">Principles of Internal Medicine 2014</text>
</g>
</svg>
<div class="abs" id="cyanband"></div>
</body></html>
